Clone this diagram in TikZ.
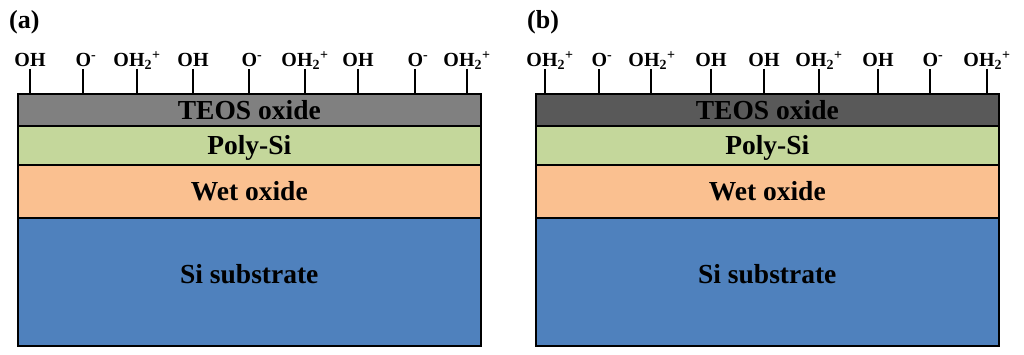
\documentclass[tikz,border=0pt]{standalone}
\usepackage{fontspec}
\setmainfont{Liberation Serif}
\definecolor{teosA}{HTML}{808080}
\definecolor{teosB}{HTML}{595959}
\definecolor{poly}{HTML}{C4D79B}
\definecolor{wet}{HTML}{FAC090}
\definecolor{subst}{HTML}{4F81BD}
\tikzset{
  layer/.style={draw=black, line width=1.6pt, inner sep=0pt, minimum width=463pt, anchor=north west, font=\fontsize{27.5}{30}\selectfont\bfseries},
  lbl/.style={anchor=base, inner sep=0pt, font=\fontsize{20}{22}\selectfont\bfseries},
  stub/.style={line width=2pt},
  panel/.style={anchor=base west, inner sep=0pt, font=\fontsize{26}{28}\selectfont\bfseries}
}
\newcommand{\OHtwo}{OH\textsubscript{\raisebox{0.45ex}{2}}\textsuperscript{+}}
\newcommand{\Ominus}{O\textsuperscript{-}}
\begin{document}
\begin{tikzpicture}[x=1pt,y=-1pt]
\useasboundingbox (0,0) rectangle (1024,355);
% panel labels
\node[panel] (pa) at (9,29) {(a)};
\node[panel] (pb) at (527,29) {(b)};
% panel (a) layers
\node[layer, fill=subst, minimum height=128pt] (subA) at (17,217) {};
\node[layer, fill=wet, minimum height=53pt] (wetA) at (17,164) {Wet oxide};
\node[layer, fill=poly, minimum height=39pt, text depth=0pt] (polyA) at (17,125) {Poly-Si};
\node[layer, fill=teosA, minimum height=32pt] (teosAn) at (17,93) {TEOS oxide};
\node[font=\fontsize{27.5}{30}\selectfont\bfseries, inner sep=0pt] (subAt) at ([yshift=8pt]subA.center) {Si substrate};
% panel (b) layers
\node[layer, fill=subst, minimum height=128pt] (subB) at (535,217) {};
\node[layer, fill=wet, minimum height=53pt] (wetB) at (535,164) {Wet oxide};
\node[layer, fill=poly, minimum height=39pt, text depth=0pt] (polyB) at (535,125) {Poly-Si};
\node[layer, fill=teosB, minimum height=32pt] (teosBn) at (535,93) {TEOS oxide};
\node[font=\fontsize{27.5}{30}\selectfont\bfseries, inner sep=0pt] (subBt) at ([yshift=8pt]subB.center) {Si substrate};
% surface groups (a)
\foreach \x/\t/\s [count=\i] in {30/OH/0, 83/\Ominus/3, 137/\OHtwo/0, 193/OH/0, 249/\Ominus/3, 305/\OHtwo/0, 358/OH/0, 415/\Ominus/3, 467/\OHtwo/0}{
  \node[lbl] (a\i) at (\x+\s,67) {\t};
  \coordinate (at\i) at (\x,69);
  \coordinate (ab\i) at (\x,93);
  \draw[stub] (at\i) -- (ab\i);
}
% surface groups (b)
\foreach \x/\t/\s [count=\i] in {545/\OHtwo/5, 599/\Ominus/3, 651/\OHtwo/1, 711/OH/0, 764/OH/0, 819/\OHtwo/0, 878/OH/0, 930/\Ominus/3, 987/\OHtwo/0}{
  \node[lbl] (b\i) at (\x+\s,67) {\t};
  \coordinate (bt\i) at (\x,69);
  \coordinate (bb\i) at (\x,93);
  \draw[stub] (bt\i) -- (bb\i);
}
\end{tikzpicture}
\end{document}
